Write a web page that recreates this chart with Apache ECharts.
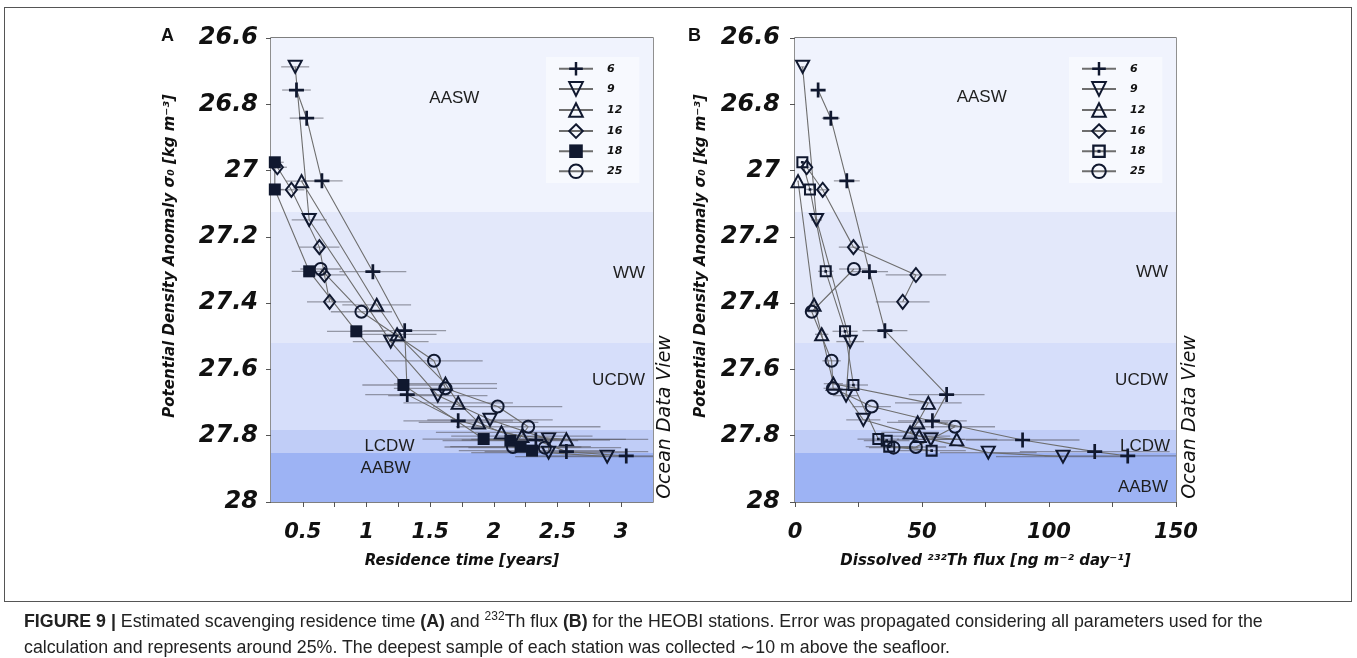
<!DOCTYPE html>
<html>
<head>
<meta charset="utf-8">
<title>Figure 9</title>
<script src="https://cdn.jsdelivr.net/npm/echarts@6/dist/echarts.min.js"></script>
<style>
  html, body { margin: 0; padding: 0; background: #fff; }
  #frame { position: absolute; left: 4px; top: 7px; width: 1348px; height: 595px; border: 1.5px solid #555; box-sizing: border-box; }
  #world { position: absolute; left: 0; top: 0; width: 1357px; height: 658px; }
  #caption { position: absolute; left: 24px; top: 608px; font-family: "Liberation Sans", Arial, sans-serif; font-size: 17.8px; line-height: 26px; color: #222; white-space: nowrap; }
  #caption sup { font-size: 12px; line-height: 0; }
</style>
</head>
<body>
<div id="frame"></div>
<div id="world"></div>
<div id="caption"><b>FIGURE 9 |</b> Estimated scavenging residence time <b>(A)</b> and <sup>232</sup>Th flux <b>(B)</b> for the HEOBI stations. Error was propagated considering all parameters used for the<br>calculation and represents around 25%. The deepest sample of each station was collected ∼10 m above the seafloor.</div>
<script>
// 误差 (图注: 约 25%)
var ERR = 0.25;

// 站位
var stations = ['6', '9', '12', '16', '18', '25'];

// 每个站位: 位势密度 sigma0, 停留时间 [years], 232Th 通量
var sigma6 = [26.757, 26.842, 27.031, 27.305, 27.483, 27.676, 27.755, 27.813, 27.848, 27.861];
var time6 = [0.45, 0.53, 0.65, 1.05, 1.30, 1.32, 1.72, 2.33, 2.57, 3.04];
var flux6 = [9.1, 14.1, 20.4, 29.3, 35.4, 59.7, 54.1, 89.6, 118, 131];

var sigma9 = [26.687, 27.149, 27.516, 27.679, 27.752, 27.811, 27.851, 27.863];
var time9 = [0.44, 0.55, 1.19, 1.56, 1.97, 2.43, 2.43, 2.89];
var flux9 = [3.0, 8.5, 21.7, 20.1, 26.9, 53.5, 76.1, 105.5];

var sigma12 = [27.032, 27.405, 27.494, 27.643, 27.701, 27.760, 27.790, 27.801, 27.811];
var time12 = [0.49, 1.08, 1.24, 1.62, 1.72, 1.88, 2.06, 2.22, 2.57];
var flux12 = [1.2, 7.5, 10.5, 15.1, 52.5, 48.3, 45.3, 48.9, 63.7];

var sigma16 = [26.990, 27.058, 27.231, 27.315, 27.396];
var time16 = [0.30, 0.41, 0.63, 0.67, 0.71];
var flux16 = [4.6, 10.9, 23.0, 47.6, 42.4];

var sigma18 = [26.975, 27.057, 27.304, 27.485, 27.647, 27.810, 27.815, 27.833, 27.845];
var time18 = [0.28, 0.28, 0.55, 0.92, 1.29, 1.92, 2.13, 2.21, 2.30];
var flux18 = [2.9, 5.9, 12.1, 19.7, 23.0, 32.8, 36.1, 37.1, 53.8];

var sigma25 = [27.297, 27.426, 27.574, 27.657, 27.712, 27.773, 27.834, 27.836];
var time25 = [0.64, 0.96, 1.53, 1.62, 2.03, 2.27, 2.15, 2.40];
var flux25 = [23.2, 6.6, 14.4, 15.0, 30.2, 63.0, 47.6, 38.8];

// 水团分层
var bandEdges = [26.6, 27.125, 27.52, 27.783, 27.852, 28];
var bandNames = ['AASW', 'WW', 'UCDW', 'LCDW', 'AABW'];
var bandColors = ['#f0f3fd', '#e3e8fa', '#d6defa', '#c0cdf7', '#9db3f4'];

var sigmaOf = { '6': sigma6, '9': sigma9, '12': sigma12, '16': sigma16, '18': sigma18, '25': sigma25 };
var timeOf = { '6': time6, '9': time9, '12': time12, '16': time16, '18': time18, '25': time25 };
var fluxOf = { '6': flux6, '9': flux9, '12': flux12, '16': flux16, '18': flux18, '25': flux25 };

// 符号
var ink = '#10182f';
var line_color = '#6e6e6e';
var err_color = 'rgba(85,85,95,0.55)';
var plusPath = 'path://M4.1,0H5.9V4.1H10V5.9H5.9V10H4.1V5.9H0V4.1H4.1Z';
var dotSquarePath = 'path://M0,0H10V10H0Z M1.7,1.7V8.3H8.3V1.7Z M3.9,3.9H6.1V6.1H3.9Z';
var hollow = { color: 'rgba(255,255,255,0)', borderColor: ink, borderWidth: 2 };
var filled = { color: ink, borderWidth: 0 };

function markerStyle(st, panel) {
    if (st === '6') return { symbol: plusPath, symbolSize: 15, symbolRotate: 0, itemStyle: filled };
    if (st === '9') return { symbol: 'triangle', symbolSize: [13, 12], symbolRotate: 180, itemStyle: hollow };
    if (st === '12') return { symbol: 'triangle', symbolSize: [13, 12], symbolRotate: 0, itemStyle: hollow };
    if (st === '16') return { symbol: 'diamond', symbolSize: [11, 14], symbolRotate: 0, itemStyle: hollow };
    if (st === '18') {
        if (panel === 0) return { symbol: 'rect', symbolSize: 12, symbolRotate: 0, itemStyle: filled };
        return { symbol: dotSquarePath, symbolSize: 12, symbolRotate: 0, itemStyle: filled };
    }
    return { symbol: 'circle', symbolSize: 12, symbolRotate: 0, itemStyle: hollow };
}

function zip(xs, ys) {
    var out = [];
    for (var i = 0; i < xs.length; i++) out.push([xs[i], ys[i]]);
    return out;
}

// 水平误差棒
function errorBar(params, api) {
    var x = api.value(0), y = api.value(1);
    var a = api.coord([x * (1 - ERR), y]);
    var b = api.coord([x * (1 + ERR), y]);
    return {
        type: 'line',
        shape: { x1: a[0], y1: a[1], x2: b[0], y2: b[1] },
        style: { stroke: err_color, lineWidth: 1.3 }
    };
}

// 水团标签位置 (每个面板)
var bandLabelPos = [
    [
        { position: ['48%', 60], align: 'center', offset: [0, 0] },
        { position: ['100%', 61], align: 'right', offset: [-8, 0] },
        { position: ['100%', 37], align: 'right', offset: [-8, 0] },
        { position: ['31%', 16], align: 'center', offset: [0, 0] },
        { position: ['30%', 15], align: 'center', offset: [0, 0] }
    ],
    [
        { position: ['49%', 59], align: 'center', offset: [0, 0] },
        { position: ['100%', 60], align: 'right', offset: [-8, 0] },
        { position: ['100%', 37], align: 'right', offset: [-8, 0] },
        { position: ['100%', 16], align: 'right', offset: [-6, 0] },
        { position: ['100%', 34], align: 'right', offset: [-8, 0] }
    ]
];

function bandSeries(panel) {
    var areas = [];
    for (var i = 0; i < bandNames.length; i++) {
        var p = bandLabelPos[panel][i];
        areas.push([{
            name: bandNames[i],
            yAxis: bandEdges[i],
            itemStyle: { color: bandColors[i] },
            label: {
                show: true, position: p.position, align: p.align, verticalAlign: 'middle', offset: p.offset,
                color: '#1e1e1e', fontSize: 17, fontFamily: 'Liberation Sans'
            }
        }, { yAxis: bandEdges[i + 1] }]);
    }
    return {
        type: 'line', name: 'bands' + panel, xAxisIndex: panel, yAxisIndex: panel,
        data: [], silent: true, z: 0, symbol: 'none',
        markArea: { silent: true, data: areas }
    };
}

var series = [bandSeries(0), bandSeries(1)];

// 误差棒 + 折线
for (var panel = 0; panel < 2; panel++) {
    var all = [];
    for (var k = 0; k < stations.length; k++) {
        var st = stations[k];
        var xs = panel === 0 ? timeOf[st] : fluxOf[st];
        all = all.concat(zip(xs, sigmaOf[st]));
    }
    series.push({
        type: 'custom', name: 'err' + panel, xAxisIndex: panel, yAxisIndex: panel,
        renderItem: errorBar, data: all, clip: true, silent: true, z: 1
    });
    for (var k = 0; k < stations.length; k++) {
        var st = stations[k];
        var xs = panel === 0 ? timeOf[st] : fluxOf[st];
        var m = markerStyle(st, panel);
        series.push({
            type: 'line',
            name: panel === 0 ? st : 'B' + st,
            xAxisIndex: panel, yAxisIndex: panel,
            data: zip(xs, sigmaOf[st]),
            symbol: m.symbol, symbolSize: m.symbolSize, symbolRotate: m.symbolRotate,
            showAllSymbol: true,
            itemStyle: m.itemStyle,
            lineStyle: { color: line_color, width: 1.1 },
            emphasis: { disabled: true },
            animation: false,
            z: 2
        });
    }
}

var tickFont = { fontFamily: 'DejaVu Sans', fontWeight: 'bold', fontStyle: 'italic', color: '#111' };
var nameFont = { fontFamily: 'DejaVu Sans', fontWeight: 'bold', fontStyle: 'italic', fontSize: 15, color: '#111' };

function yAxisOf(panel) {
    return {
        type: 'value', gridIndex: panel, inverse: true, min: 26.6, max: 28, interval: 0.2,
        name: 'Potential Density Anomaly σ₀ [kg m⁻³]',
        nameLocation: 'middle', nameRotate: 90, nameGap: panel === 0 ? 93 : 86,
        nameTextStyle: Object.assign({ padding: [0, 0, 0, 28] }, nameFont),
        axisLine: { show: false },
        axisTick: { show: true, length: 5, lineStyle: { color: '#555' } },
        axisLabel: Object.assign({
            fontSize: 24, margin: panel === 0 ? 13 : 15,
            formatter: function (v) { return String(parseFloat(v.toFixed(1))); }
        }, tickFont),
        splitLine: { show: false }
    };
}

function xAxisOf(panel) {
    var opt = {
        type: 'value', gridIndex: panel,
        nameLocation: 'middle', nameGap: 52, nameTextStyle: nameFont,
        axisLine: { show: false },
        axisTick: { show: true, length: 5, lineStyle: { color: '#555' } },
        splitLine: { show: false }
    };
    if (panel === 0) {
        opt.min = 0.25; opt.max = 3.25; opt.interval = 0.25;
        opt.name = 'Residence time [years]';
        opt.axisLabel = Object.assign({
            fontSize: 21, margin: 20, showMinLabel: false, showMaxLabel: false,
            formatter: function (v) {
                var h = v * 2;
                return Math.abs(h - Math.round(h)) < 1e-6 ? String(parseFloat(v.toFixed(2))) : '';
            }
        }, tickFont);
    } else {
        opt.min = 0; opt.max = 150; opt.interval = 25;
        opt.name = 'Dissolved ²³²Th flux [ng m⁻² day⁻¹]';
        opt.axisLabel = Object.assign({
            fontSize: 21, margin: 20, showMinLabel: true, showMaxLabel: true,
            formatter: function (v) { return v % 50 === 0 ? String(v) : ''; }
        }, tickFont);
    }
    return opt;
}

function legendOf(panel) {
    var names = [];
    for (var i = 0; i < stations.length; i++) names.push(panel === 0 ? stations[i] : 'B' + stations[i]);
    return {
        data: names,
        orient: 'vertical',
        left: panel === 0 ? 546 : 1069,
        top: 57,
        itemWidth: 34, itemHeight: 17, itemGap: 5.5,
        padding: [5, 17, 4, 12],
        backgroundColor: 'rgba(247,249,254,0.9)',
        selectedMode: false,
        formatter: function (n) { return n.replace('B', ''); },
        textStyle: { fontFamily: 'DejaVu Sans', fontWeight: 'bold', fontStyle: 'italic', fontSize: 11, color: '#111', padding: [0, 0, 0, 9] }
    };
}

var myChart = echarts.init(document.getElementById('world'));

var option = {
    animation: false,
    grid: [
        { left: 271, top: 38, width: 382, height: 464, show: true, borderColor: '#555', borderWidth: 1.3, backgroundColor: 'transparent' },
        { left: 795, top: 38, width: 381, height: 464, show: true, borderColor: '#555', borderWidth: 1.3, backgroundColor: 'transparent' }
    ],
    xAxis: [xAxisOf(0), xAxisOf(1)],
    yAxis: [yAxisOf(0), yAxisOf(1)],
    legend: [legendOf(0), legendOf(1)],
    graphic: [
        { type: 'text', left: 161, top: 27, style: { text: 'A', font: 'bold 18px "Liberation Sans"', fill: '#111' } },
        { type: 'text', left: 688, top: 27, style: { text: 'B', font: 'bold 18px "Liberation Sans"', fill: '#111' } },
        { type: 'text', x: 665, y: 417, rotation: Math.PI / 2, style: { text: 'Ocean Data View', font: 'italic 19px "DejaVu Sans"', fill: '#111', align: 'center', verticalAlign: 'middle' } },
        { type: 'text', x: 1190, y: 417, rotation: Math.PI / 2, style: { text: 'Ocean Data View', font: 'italic 19px "DejaVu Sans"', fill: '#111', align: 'center', verticalAlign: 'middle' } }
    ],
    series: series
};

myChart.setOption(option);
</script>
</body>
</html>
